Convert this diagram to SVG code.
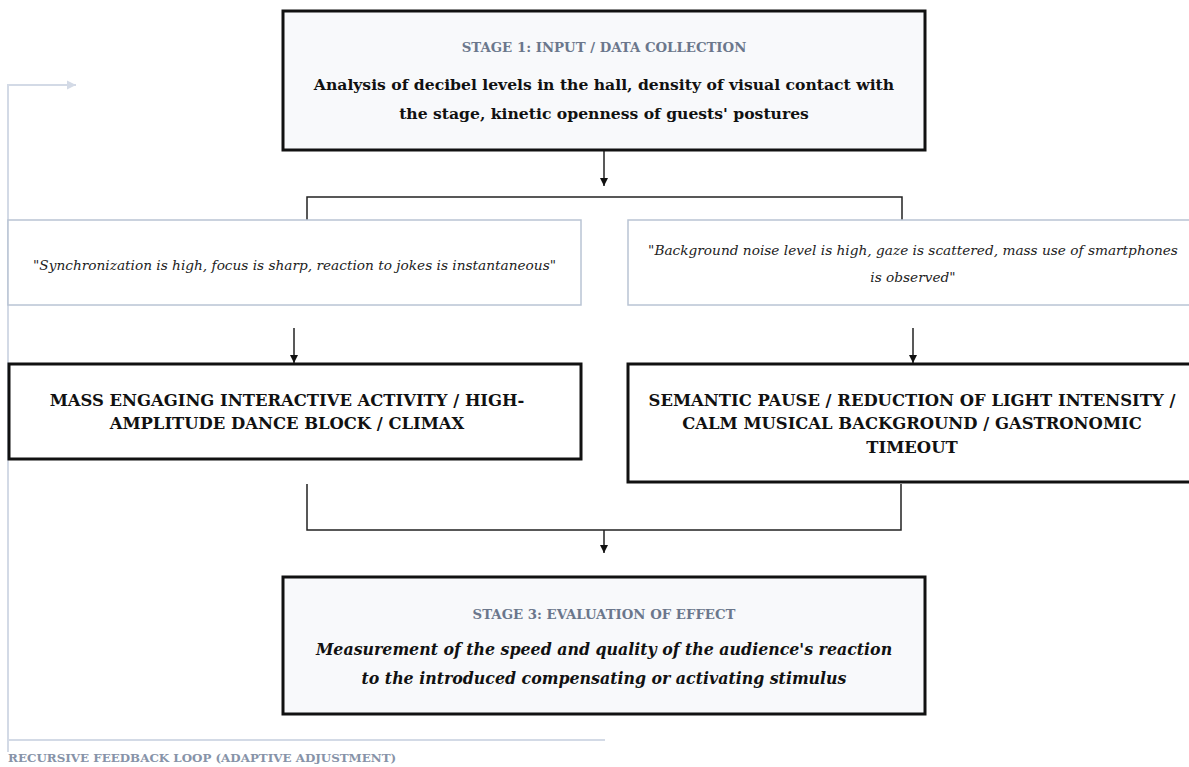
<svg xmlns="http://www.w3.org/2000/svg" width="1189" height="767" viewBox="0 0 1189 767">
<defs>
<style>
.heavy{fill:#f8f9fb;stroke:#111;stroke-width:3}
.act{fill:#fff;stroke:#111;stroke-width:3}
.cond{fill:#fff;stroke:#b9c4d4;stroke-width:1.5}
.lbl{font-family:"DejaVu Serif",serif;font-weight:bold;font-size:13.3px;fill:#6b778c;text-anchor:middle}
.main{font-family:"DejaVu Serif",serif;font-weight:bold;font-size:15.6px;fill:#111;text-anchor:middle}
.ital{font-family:"DejaVu Serif",serif;font-style:italic;font-size:13.7px;fill:#222;text-anchor:middle}
.caps{font-family:"DejaVu Serif",serif;font-weight:bold;font-size:16.4px;fill:#111;text-anchor:middle}
.bi{font-family:"DejaVu Serif",serif;font-weight:bold;font-style:italic;font-size:15.8px;fill:#111;text-anchor:middle}
.fb{font-family:"DejaVu Serif",serif;font-weight:bold;font-size:11.9px;fill:#8793a8}
.conn{fill:none;stroke:#222;stroke-width:1.5}
.loop{fill:none;stroke:#d3dae6;stroke-width:2}
</style>
<marker id="ah" viewBox="0 0 10 10" refX="10" refY="5" markerWidth="8" markerHeight="8" markerUnits="userSpaceOnUse" orient="auto"><path d="M0,0 L10,5 L0,10 Z" fill="#111"/></marker>
<marker id="ahl" viewBox="0 0 10 10" refX="10" refY="5" markerWidth="9" markerHeight="10" markerUnits="userSpaceOnUse" orient="auto"><path d="M0,0 L10,5 L0,10 Z" fill="#d3dae6"/></marker>
</defs>
<rect width="1189" height="767" fill="#fff"/>

<g id="feedback-loop">
<path class="loop" d="M8,752 V85 H76" marker-end="url(#ahl)"/>
<path class="loop" d="M8,740 H605"/>
<text class="fb" x="8" y="762">RECURSIVE FEEDBACK LOOP (ADAPTIVE ADJUSTMENT)</text>
</g>

<g id="connectors">
<path class="conn" d="M604,151 V186" marker-end="url(#ah)"/>
<path class="conn" d="M307,220 V197 H902 V220"/>
<path class="conn" d="M294,328 V363" marker-end="url(#ah)"/>
<path class="conn" d="M913,328 V363" marker-end="url(#ah)"/>
<path class="conn" d="M307,484 V530 H901 V484"/>
<path class="conn" d="M604,530 V553" marker-end="url(#ah)"/>
</g>

<g id="stage1">
<rect class="heavy" x="283" y="11" width="642" height="139"/>
<text class="lbl" x="604" y="52">STAGE 1: INPUT / DATA COLLECTION</text>
<text class="main" x="604" y="90">Analysis of decibel levels in the hall, density of visual contact with</text>
<text class="main" x="604" y="119">the stage, kinetic openness of guests' postures</text>
</g>

<g id="cond-high">
<rect class="cond" x="8" y="220" width="573" height="85"/>
<text class="ital" x="294.5" y="270">"Synchronization is high, focus is sharp, reaction to jokes is instantaneous"</text>
</g>

<g id="cond-low">
<rect class="cond" x="628" y="220" width="573" height="85"/>
<text class="ital" x="913" y="255">"Background noise level is high, gaze is scattered, mass use of smartphones</text>
<text class="ital" x="913" y="282">is observed"</text>
</g>

<g id="action-activate">
<rect class="act" x="9" y="364" width="572" height="95"/>
<text class="caps" x="287" y="406">MASS ENGAGING INTERACTIVE ACTIVITY / HIGH-</text>
<text class="caps" x="287" y="429">AMPLITUDE DANCE BLOCK / CLIMAX</text>
</g>

<g id="action-calm">
<rect class="act" x="628" y="364" width="573" height="118"/>
<text class="caps" x="912" y="406">SEMANTIC PAUSE / REDUCTION OF LIGHT INTENSITY /</text>
<text class="caps" x="912" y="429">CALM MUSICAL BACKGROUND / GASTRONOMIC</text>
<text class="caps" x="912" y="453">TIMEOUT</text>
</g>

<g id="stage3">
<rect class="heavy" x="283" y="577" width="642" height="137"/>
<text class="lbl" x="604" y="619">STAGE 3: EVALUATION OF EFFECT</text>
<text class="bi" x="604" y="655">Measurement of the speed and quality of the audience's reaction</text>
<text class="bi" x="604" y="684">to the introduced compensating or activating stimulus</text>
</g>
</svg>
